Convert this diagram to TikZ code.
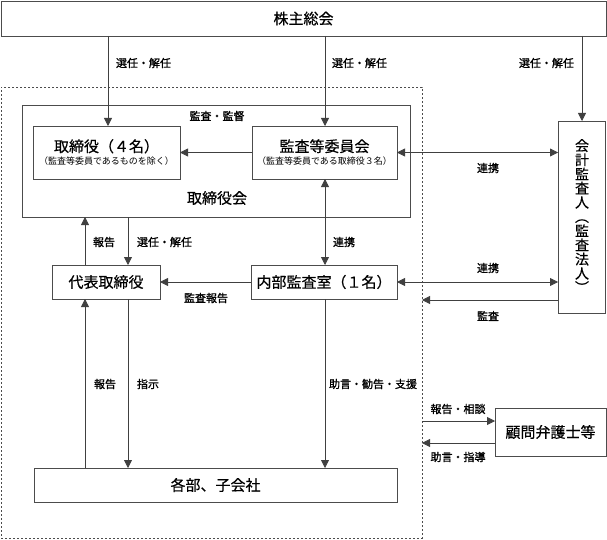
\documentclass[tikz,border=0pt]{standalone}
\usepackage{fontspec}
\setmainfont{Noto Sans CJK JP}
\newfontfamily\lblfont[FakeBold=1.2]{Noto Sans CJK JP}
\newfontfamily\bigfont[FakeBold=0.4]{Noto Sans CJK JP}
\usetikzlibrary{arrows.meta}
\begin{document}
\begin{tikzpicture}[x=1pt,y=-1pt,
  every node/.style={inner sep=0pt,outer sep=0pt},
  box/.style={draw=black!70,line width=0.8pt,fill=white},
  grpbox/.style={draw=black!70,line width=0.7pt,dash pattern=on 2pt off 2pt},
  big/.style={font=\bigfont\fontsize{15}{17}\selectfont},
  lbl/.style={font=\lblfont\fontsize{11}{13}\selectfont},
  arr/.style={draw=black!75,line width=0.8pt,-{Triangle[length=8pt,width=8pt]}},
  arrb/.style={draw=black!75,line width=0.8pt,{Triangle[length=8pt,width=8pt]}-{Triangle[length=8pt,width=8pt]}}]
\useasboundingbox (0,0) rectangle (607,540);
% reference coordinates
\coordinate (X85) at (85,0);
\coordinate (X108) at (108,0);
\coordinate (X128) at (128,0);
\coordinate (X325) at (325,0);
\coordinate (X582) at (582,0);
\coordinate (Y300) at (0,300);
\coordinate (Y421) at (0,421);
\coordinate (Y443) at (0,443);
% boxes
\node[grpbox,minimum width=421pt,minimum height=451pt] (grp) at (211.5,312.5) {};
\node[box,big,minimum width=605pt,minimum height=35pt] (kabu) at (303.5,18.5) {株主総会};
\node[box,minimum width=388pt,minimum height=112pt] (torikai) at (216,161) {};
\node[big] (torikaiL) at (217,198) {取締役会};
\node[box,minimum width=147pt,minimum height=53pt,align=center] (tori) at (106.5,152.5)
  {{\bigfont\fontsize{15}{17}\selectfont 取締役（４名）}\\[1pt]{\fontsize{9}{11}\selectfont （監査等委員であるものを除く）}};
\node[box,minimum width=145pt,minimum height=53pt,align=center] (kansa) at (324.5,152.5)
  {{\bigfont\fontsize{15}{17}\selectfont 監査等委員会}\\[1pt]{\fontsize{9}{11}\selectfont （監査等委員である取締役３名）}};
\node[box,minimum width=47pt,minimum height=192pt] (kaikei) at (581.5,217) {};
\node[align=center,font=\bigfont\fontsize{14}{14.2}\selectfont] (kaikeiL) at (582,216)
  {会\\計\\監\\査\\人\\︵\\監\\査\\法\\人\\︶};
\node[box,big,minimum width=108pt,minimum height=34pt] (daihyo) at (106,282) {代表取締役};
\node[box,big,minimum width=146pt,minimum height=34pt] (naibu) at (324,282) {内部監査室（１名）};
\node[box,big,minimum width=363pt,minimum height=34pt] (kakubu) at (215.5,485) {各部、子会社};
\node[box,big,minimum width=111pt,minimum height=48pt] (komon) at (550.5,432) {顧問弁護士等};
% connectors from 株主総会
\draw[arr] (kabu.south -| X108) -- (tori.north -| X108);
\draw[arr] (kabu.south -| X325) -- (kansa.north -| X325);
\draw[arr] (kabu.south -| X582) -- (kaikei.north -| X582);
\node[lbl,anchor=west] (l1) at (116,63) {選任・解任};
\node[lbl,anchor=west] (l2) at (332,63) {選任・解任};
\node[lbl,anchor=east] (l3) at (574,63) {選任・解任};
% within board
\draw[arr] (kansa.west) -- (tori.east);
\node[lbl] (l4) at (217,116) {監査・監督};
\draw[arrb] (kansa.east) -- (kansa.east -| kaikei.west);
\node[lbl] (l5) at (488,168) {連携};
\draw[arrb] (kansa.south -| X325) -- (naibu.north -| X325);
\node[lbl,anchor=west] (l6) at (333,242) {連携};
\draw[arr] (daihyo.north -| X85) -- (torikai.south -| X85);
\node[lbl,anchor=west] (l7) at (93,242) {報告};
\draw[arr] (torikai.south -| X128) -- (daihyo.north -| X128);
\node[lbl,anchor=west] (l8) at (137,242) {選任・解任};
\draw[arr] (naibu.west) -- (daihyo.east);
\node[lbl] (l9) at (206,298) {監査報告};
\draw[arrb] (naibu.east) -- (naibu.east -| kaikei.west);
\node[lbl] (l10) at (488,268) {連携};
\draw[arr] (kaikei.west |- Y300) -- (grp.east |- Y300);
\node[lbl] (l11) at (488,316) {監査};
% lower
\draw[arr] (kakubu.north -| X85) -- (daihyo.south -| X85);
\node[lbl,anchor=west] (l12) at (94,384) {報告};
\draw[arr] (daihyo.south -| X128) -- (kakubu.north -| X128);
\node[lbl,anchor=west] (l13) at (137,384) {指示};
\draw[arr] (naibu.south -| X325) -- (kakubu.north -| X325);
\node[lbl,anchor=west] (l14) at (329,384) {助言・勧告・支援};
% advisors
\draw[arr] (grp.east |- Y421) -- (komon.west |- Y421);
\node[lbl] (l15) at (458,409) {報告・相談};
\draw[arr] (komon.west |- Y443) -- (grp.east |- Y443);
\node[lbl] (l16) at (458,457) {助言・指導};
\end{tikzpicture}
\end{document}
